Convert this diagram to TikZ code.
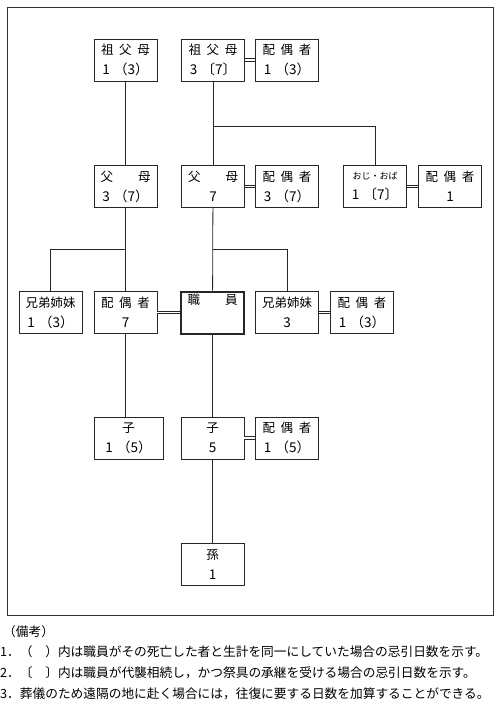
\documentclass[tikz,border=0pt]{standalone}
\usepackage{fontspec}
\setmainfont{Noto Sans CJK JP}
\newcommand\bnum[1]{{\fontsize{13.5}{20}\selectfont #1}}
\begin{document}
\begin{tikzpicture}[x=1pt,y=-1pt,
  box/.style={draw=black!85, line width=0.8pt, minimum width=63pt, minimum height=42pt,
    inner sep=0pt, align=center, font=\fontsize{12.5}{20}\selectfont},
  mainbox/.style={box, line width=2pt},
  link/.style={draw=black!85, line width=0.8pt},
  dbl/.style={draw=black!85, line width=0.7pt, double, double distance=1.8pt},
  note/.style={anchor=west, inner sep=0pt, font=\fontsize{12.7}{14}\selectfont}]
\useasboundingbox (0,0) rectangle (500,712);
\node[draw=black!80, line width=0.9pt, minimum width=486pt, minimum height=608pt, inner sep=0pt] (frame) at (250,311) {};
% row 1
\node[box] (gp1) at (125.5,60) {祖\hspace{0.45em}父\hspace{0.45em}母\\\bnum{1\hspace{0.3em}（3）}};
\node[box] (gp2) at (213,60) {祖\hspace{0.45em}父\hspace{0.45em}母\\\bnum{3\hspace{0.3em}〔7〕}};
\node[box] (gpsp) at (287,60) {配\hspace{0.45em}偶\hspace{0.45em}者\\\bnum{1\hspace{0.3em}（3）}};
% row 2
\node[box] (fa1) at (125.5,186.5) {父\hspace{2em}母\\\bnum{3\hspace{0.3em}（7）}};
\node[box] (fa2) at (213,186.5) {父\hspace{2em}母\\\bnum{7}};
\node[box] (fasp) at (287,186.5) {配\hspace{0.45em}偶\hspace{0.45em}者\\\bnum{3\hspace{0.3em}（7）}};
\node[box] (oji) at (375,186.5) {{\fontsize{9}{20}\selectfont おじ・おば}\\\bnum{1\hspace{0.3em}〔7〕}};
\node[box] (ojisp) at (450,186.5) {配\hspace{0.45em}偶\hspace{0.45em}者\\\bnum{1}};
% row 3
\node[box] (sib1) at (50.5,312.5) {兄弟姉妹\\\bnum{1\hspace{0.3em}（3）}};
\node[box] (sp) at (125.5,312.5) {配\hspace{0.45em}偶\hspace{0.45em}者\\\bnum{7}};
\node[mainbox] (me) at (212.5,312.5) {職\hspace{2em}員\\\strut};
\node[box] (sib2) at (287,312.5) {兄弟姉妹\\\bnum{3}};
\node[box] (sib2sp) at (362,312.5) {配\hspace{0.45em}偶\hspace{0.45em}者\\\bnum{1\hspace{0.3em}（3）}};
% row 4
\node[box, minimum width=69pt] (ch1) at (128.5,438) {子\\\bnum{1\hspace{0.3em}（5）}};
\node[box] (ch2) at (212.5,438) {子\\\bnum{5}};
\node[box] (ch2sp) at (287,438) {配\hspace{0.45em}偶\hspace{0.45em}者\\\bnum{1\hspace{0.3em}（5）}};
% row 5
\node[box] (gc) at (212.5,564) {孫\\\bnum{1}};
% junctions
\coordinate (j1) at (213,126);
\coordinate (j2) at (125.5,249);
\coordinate (j3) at (212.5,249);
% connectors
\draw[link] (gp1) -- (fa1);
\draw[link] (gp2) -- (fa2);
\draw[link] (j1) -| (oji.north);
\draw[link] (fa1) -- (sp);
\draw[link] (j2) -| (sib1.north);
\draw[link] (fa2) -- (me);
\draw[link] (j3) -| (sib2.north);
\draw[link] (sp.south) -- (sp.south |- ch1.north);
\draw[link] (me) -- (ch2);
\draw[link] (ch2) -- (gc);
\draw[dbl] (gp2) -- (gpsp);
\draw[dbl] (fa2) -- (fasp);
\draw[dbl] (oji) -- (ojisp);
\draw[dbl] (sp) -- (me);
\draw[dbl] (sib2) -- (sib2sp);
\draw[dbl] (ch2) -- (ch2sp);
% notes
\node[note] (n0) at (3,632) {（備考）};
\node[note] (n1) at (0,652) {1．（　）内は職員がその死亡した者と生計を同一にしていた場合の忌引日数を示す。};
\node[note] (n2) at (0,673) {2．〔　〕内は職員が代襲相続し，かつ祭具の承継を受ける場合の忌引日数を示す。};
\node[note] (n3) at (0,694) {3．葬儀のため遠隔の地に赴く場合には，往復に要する日数を加算することができる。};
\end{tikzpicture}
\end{document}
